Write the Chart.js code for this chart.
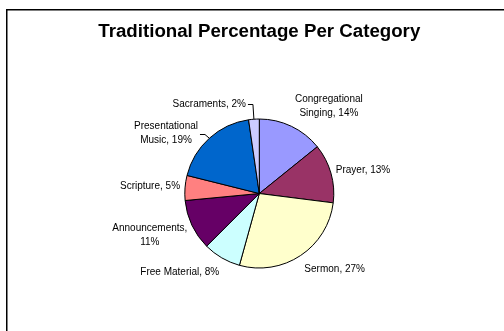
<!DOCTYPE html>
<html lang="en">
<head>
    <meta charset="UTF-8">
    <title>Traditional Percentage Per Category</title>
    <style>
        body {
            margin: 0;
            background-color: #FFFFFF;
        }
        .chart-container {
            width: 504px;
            height: 331px;
            position: relative;
        }
    </style>
</head>
<body>
    <div class="chart-container">
        <canvas id="pieChart"></canvas>
    </div>

    <script src="https://cdn.jsdelivr.net/npm/chart.js"></script>
    <script>
        // Data, clockwise from 12 o'clock
        const categories = ['Congregational Singing', 'Prayer', 'Sermon', 'Free Material',
                            'Announcements', 'Scripture', 'Presentational Music', 'Sacraments'];
        const percentages = [14.2, 12.8, 27.3, 8.2, 11.0, 5.4, 18.8, 2.3];
        const sliceColors = ['#9999FF', '#993366', '#FFFFCC', '#CCFFFF',
                             '#660066', '#FF8080', '#0066CC', '#CCCCFF'];

        // labels that were dragged away from the pie, and get a leader line
        const labelShift = [[6, -2], [0, 2], [1, 3], [0, 3], [0, -4], [0, 0], [-8, 13], [-39, -3]];
        const hasLeader = [false, false, false, false, false, false, true, true];

        const labelFont = '10px "Liberation Sans", Arial, sans-serif';
        const lineH = 14;

        function wrapText(ctx, text, maxWidth) {
            const words = text.split(' ');
            const lines = [];
            let line = '';
            words.forEach(w => {
                const test = line ? line + ' ' + w : w;
                if (line && ctx.measureText(test).width > maxWidth) {
                    lines.push(line);
                    line = w;
                } else {
                    line = test;
                }
            });
            lines.push(line);
            return lines;
        }

        const clamp = v => Math.max(-1, Math.min(1, v));

        const frame = {
            id: 'frame',
            beforeDraw(chart) {
                const c = chart.ctx;
                c.save();
                c.strokeStyle = '#000';
                c.lineWidth = 1.5;
                c.strokeRect(6.75, 9.75, 700, 700);
                c.restore();
            }
        };

        const sliceLabels = {
            id: 'sliceLabels',
            afterDatasetsDraw(chart) {
                const c = chart.ctx;
                const meta = chart.getDatasetMeta(0);
                c.save();
                c.font = labelFont;
                c.fillStyle = '#000';
                c.strokeStyle = '#000';
                c.lineWidth = 1;
                c.textAlign = 'center';
                c.textBaseline = 'middle';
                meta.data.forEach((arc, i) => {
                    const p = arc.getProps(['x', 'y', 'startAngle', 'endAngle', 'outerRadius'], true);
                    const mid = (p.startAngle + p.endAngle) / 2;
                    const cos = Math.cos(mid), sin = Math.sin(mid);
                    const text = categories[i] + ', ' + Math.round(percentages[i]) + '%';
                    const lines = wrapText(c, text, 85);
                    const w = Math.max(...lines.map(l => c.measureText(l).width));
                    const h = lines.length * lineH;
                    const r = p.outerRadius + 5;
                    const ax = p.x + cos * r, ay = p.y + sin * r;
                    const cx = ax + clamp(cos * 2) * w / 2 + labelShift[i][0];
                    const cy = ay + clamp(sin * 2) * h / 2 + labelShift[i][1];
                    lines.forEach((l, j) => c.fillText(l, cx, cy - h / 2 + lineH * (j + 0.5)));

                    if (hasLeader[i]) {
                        const ex = p.x + cos * p.outerRadius, ey = p.y + sin * p.outerRadius;
                        const sx = cx + w / 2 + 2, sy = Math.round(cy) + 0.5;
                        const kx = Math.min(sx + 5, ex);
                        c.beginPath();
                        c.moveTo(sx, sy);
                        c.lineTo(kx, sy);
                        c.lineTo(ex, ey);
                        c.stroke();
                    }
                });
                c.restore();
            }
        };

        const ctx = document.getElementById('pieChart').getContext('2d');

        const pieChart = new Chart(ctx, {
            type: 'pie',
            data: {
                labels: categories,
                datasets: [{
                    data: percentages,
                    backgroundColor: sliceColors,
                    borderColor: '#000',
                    borderWidth: 1
                }]
            },
            options: {
                responsive: true,
                maintainAspectRatio: false,
                animation: false,
                radius: 74.5,
                layout: {
                    padding: { left: 14.6, right: 0, top: 10, bottom: 0 }
                },
                plugins: {
                    legend: { display: false },
                    tooltip: { enabled: false },
                    title: {
                        display: true,
                        text: 'Traditional Percentage Per Category',
                        color: '#000',
                        font: { family: '"Liberation Sans", Arial, sans-serif', size: 18.7, weight: 'bold' },
                        padding: { top: 10.3, bottom: 13.3 }
                    }
                }
            },
            plugins: [frame, sliceLabels]
        });
    </script>
</body>
</html>
